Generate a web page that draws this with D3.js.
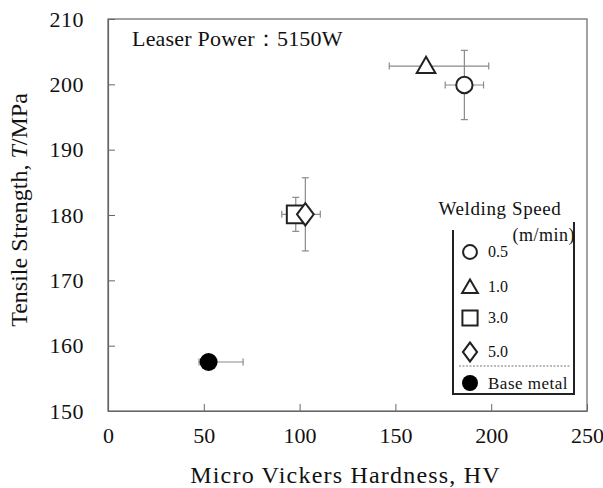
<!DOCTYPE html>
<html><head><meta charset="utf-8">
<script src="https://cdn.jsdelivr.net/npm/d3@7"></script>
<style>body{margin:0;background:#fff}svg{display:block}text{font-family:"Liberation Serif","Times New Roman",serif;fill:#111}</style>
</head><body>
<script>
const speeds = ["0.5","1.0","3.0","5.0"];
const symbols = ["circle","triangle","square","diamond"];
const hardness = [186, 166, 98, 103];
const strength = [199.9, 202.8, 180.1, 180.1];
const hardErrMinus = [10, 19.2, 7.3, 4];
const hardErrPlus = [10, 32.7, 4, 7.8];
const strErr = [5.3, 0, 2.6, 5.6];
const baseHardness = [52.5];
const baseStrength = [157.5];
const baseHardErrMinus = [5];
const baseHardErrPlus = [18];
const xTicks = [0,50,100,150,200,250];
const yTicks = [150,160,170,180,190,200,210];

const W=603,H=488;
const svg=d3.select("body").append("svg").attr("width",W).attr("height",H);
const L=108,R=587,T=19,B=411;
const x=d3.scaleLinear().domain([0,250]).range([L,R]);
const y=d3.scaleLinear().domain([150,210]).range([B,T]);

// frame
svg.append("rect").attr("x",L).attr("y",T).attr("width",R-L).attr("height",B-T).attr("fill","none").attr("stroke","#666").attr("stroke-width",1.2);

const gx=svg.append("g").attr("transform",`translate(0,${B})`)
 .call(d3.axisBottom(x).tickValues(xTicks).tickSizeInner(-7).tickSizeOuter(0).tickPadding(16));
const gy=svg.append("g").attr("transform",`translate(${L},0)`)
 .call(d3.axisLeft(y).tickValues(yTicks).tickSizeInner(-7).tickSizeOuter(0).tickPadding(24));
[gx,gy].forEach(g=>{g.select(".domain").attr("stroke","#666").attr("stroke-width",1.2);
 g.selectAll(".tick line").attr("stroke","#666");
 g.selectAll(".tick text").attr("font-size",22).attr("font-family","Liberation Serif").attr("fill","#111");});
gy.selectAll(".tick text").attr("letter-spacing",0.5);
gx.selectAll(".tick text").attr("dy","0.71em");

svg.append("text").attr("x",(L+R)/2-2).attr("y",483).attr("text-anchor","middle").attr("font-size",24).attr("letter-spacing",1.2).text("Micro Vickers Hardness, HV");
const yl=svg.append("text").attr("transform","translate(27,210) rotate(-90)").attr("text-anchor","middle").attr("font-size",24);
yl.append("tspan").text("Tensile Strength, ");
yl.append("tspan").attr("font-style","italic").text("T");
yl.append("tspan").text("/MPa");

svg.append("text").attr("x",132).attr("y",46).attr("font-size",22).attr("letter-spacing",0.2).text("Leaser Power：5150W");

// error bars
const eb=svg.append("g").attr("stroke","#8a8a8a").attr("stroke-width",1.2);
function errX(cx,cy,lo,hi){
  eb.append("line").attr("x1",x(lo)).attr("x2",x(hi)).attr("y1",y(cy)).attr("y2",y(cy));
  [lo,hi].forEach(v=>eb.append("line").attr("x1",x(v)).attr("x2",x(v)).attr("y1",y(cy)-3.5).attr("y2",y(cy)+3.5));
}
function errY(cx,cy,lo,hi){
  eb.append("line").attr("x1",x(cx)).attr("x2",x(cx)).attr("y1",y(lo)).attr("y2",y(hi));
  [lo,hi].forEach(v=>eb.append("line").attr("y1",y(v)).attr("y2",y(v)).attr("x1",x(cx)-3.5).attr("x2",x(cx)+3.5));
}
hardness.forEach((h,i)=>{
  errX(h,strength[i],h-hardErrMinus[i],h+hardErrPlus[i]);
  if(strErr[i]>0) errY(h,strength[i],strength[i]-strErr[i],strength[i]+strErr[i]);
});
baseHardness.forEach((h,i)=>errX(h,baseStrength[i],h-baseHardErrMinus[i],h+baseHardErrPlus[i]));

const symMap={circle:d3.symbolCircle,triangle:d3.symbolTriangle,square:d3.symbolSquare,diamond:d3.symbolDiamond};
const symSize={circle:210,triangle:150,square:320,diamond:200};
function marker(g,type,px,py,scale=1){
  let s=symSize[type]*scale;
  let p=d3.symbol().type(symMap[type]).size(s)();
  let tf=`translate(${px},${py})`;
  if(type==="diamond") tf+=" scale(1.1,0.85)";
  if(type==="triangle") tf=`translate(${px},${py+1.5})`;
  g.append("path").attr("d",p).attr("transform",tf).attr("fill","#fff").attr("stroke","#222").attr("stroke-width",2);
}
const mg=svg.append("g");
hardness.forEach((h,i)=>marker(mg,symbols[i],x(h),y(strength[i])));
baseHardness.forEach((h,i)=>mg.append("circle").attr("cx",x(h)).attr("cy",y(baseStrength[i])).attr("r",9).attr("fill","#000"));

// legend
const lg=svg.append("g");
lg.append("path").attr("d","M453,230 V394 H574 V222").attr("fill","none").attr("stroke","#222").attr("stroke-width",2);
lg.append("text").attr("x",500).attr("y",215).attr("text-anchor","middle").attr("font-size",19).attr("letter-spacing",0.6).text("Welding Speed");
lg.append("text").attr("x",575).attr("y",241).attr("text-anchor","end").attr("font-size",18).attr("letter-spacing",0.5).text("(m/min)");
const ly=[252,287,318,352];
speeds.forEach((s,i)=>{
  marker(lg,symbols[i],470,ly[i],0.72);
  lg.append("text").attr("x",488).attr("y",ly[i]+5).attr("font-size",16).text(s);
});
lg.append("line").attr("x1",459).attr("x2",571).attr("y1",366).attr("y2",366).attr("stroke","#777").attr("stroke-dasharray","2,1.5").attr("stroke-width",1);
lg.append("circle").attr("cx",470).attr("cy",383).attr("r",8).attr("fill","#000");
lg.append("text").attr("x",488).attr("y",389).attr("font-size",17).attr("letter-spacing",0.5).text("Base metal");
</script>
</body></html>
